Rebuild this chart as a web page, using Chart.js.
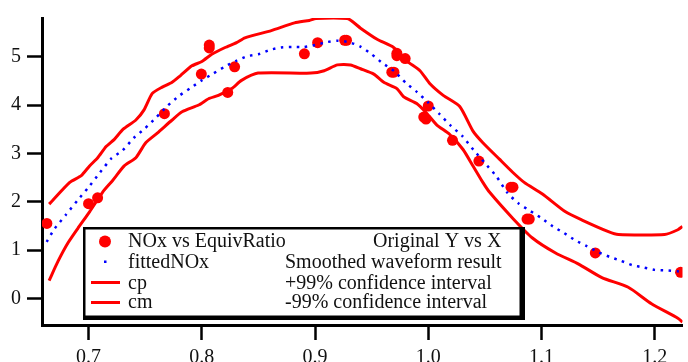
<!DOCTYPE html>
<html lang="en">
  <head>
    <meta charset="UTF-8" />
    <title>NOx vs EquivRatio</title>
    <script src="https://cdn.jsdelivr.net/npm/chart.js"></script>
    <style>
      body { margin: 0; background: #fff; }
      canvas { display: block; }
    </style>
  </head>
  <body>
    <canvas id="noxChart" width="688" height="362"></canvas>

    <script>
      // measured points (NOx vs EquivRatio)
      const obsX = [0.6632, 0.700, 0.708, 0.767, 0.7996, 0.8066, 0.8066, 0.8229, 0.829, 0.8906, 0.9023, 0.9262, 0.9278, 0.9678, 0.9697, 0.9723, 0.9723, 0.9796, 0.996, 0.998, 1.000, 1.0214, 1.0447, 1.0730, 1.0748, 1.0872, 1.0892, 1.1475, 1.2228];
      const obsY = [1.55, 1.96, 2.08, 3.82, 4.64, 5.18, 5.24, 4.26, 4.79, 5.06, 5.29, 5.34, 5.34, 4.68, 4.68, 5.02, 5.07, 4.96, 3.75, 3.71, 3.98, 3.27, 2.84, 2.30, 2.30, 1.64, 1.64, 0.94, 0.54];

      // smoothed fit
      const fitX = [0.663, 0.67, 0.68, 0.69, 0.70, 0.71, 0.72, 0.73, 0.74, 0.75, 0.76, 0.77, 0.78, 0.79, 0.80, 0.81, 0.82, 0.83, 0.84, 0.85, 0.86, 0.87, 0.88, 0.89, 0.90, 0.91, 0.92, 0.93, 0.94, 0.95, 0.96, 0.97, 0.98, 0.99, 1.00, 1.01, 1.02, 1.03, 1.04, 1.05, 1.06, 1.07, 1.08, 1.09, 1.10, 1.11, 1.12, 1.13, 1.14, 1.15, 1.16, 1.17, 1.18, 1.19, 1.20, 1.21, 1.22, 1.2245];
      const fitY = [1.17, 1.44, 1.73, 2.02, 2.30, 2.60, 2.89, 3.06, 3.32, 3.52, 3.75, 3.99, 4.19, 4.35, 4.51, 4.65, 4.79, 4.91, 5.01, 5.05, 5.14, 5.19, 5.20, 5.20, 5.24, 5.30, 5.33, 5.30, 5.21, 5.05, 4.86, 4.70, 4.46, 4.27, 4.05, 3.81, 3.57, 3.36, 3.07, 2.80, 2.53, 2.18, 1.96, 1.81, 1.66, 1.49, 1.35, 1.20, 1.08, 0.96, 0.86, 0.78, 0.69, 0.64, 0.59, 0.58, 0.56, 0.55];

      // +99% confidence band
      const cpX = [0.6652, 0.6834, 0.6936, 0.7009, 0.7081, 0.7155, 0.7228, 0.7306, 0.7418, 0.7490, 0.7563, 0.7651, 0.7738, 0.7812, 0.7913, 0.8001, 0.8088, 0.8206, 0.8307, 0.8381, 0.8614, 0.8819, 0.8950, 0.9008, 0.9286, 0.9402, 0.9548, 0.9694, 0.9811, 0.9927, 1.0015, 1.0132, 1.0278, 1.0395, 1.0482, 1.0628, 1.0745, 1.0847, 1.1008, 1.1212, 1.1358, 1.1591, 1.1679, 1.2087, 1.2204, 1.2245];
      const cpY = [1.95, 2.40, 2.54, 2.74, 2.91, 3.14, 3.29, 3.50, 3.69, 3.90, 4.24, 4.37, 4.47, 4.61, 4.81, 4.90, 5.05, 5.19, 5.29, 5.39, 5.54, 5.70, 5.75, 5.79, 5.79, 5.59, 5.36, 5.19, 4.91, 4.71, 4.44, 4.20, 3.97, 3.46, 3.22, 2.88, 2.61, 2.40, 2.16, 1.79, 1.62, 1.38, 1.32, 1.32, 1.42, 1.49];

      // -99% confidence band
      const cmX = [0.6652, 0.6731, 0.6819, 0.6906, 0.7009, 0.7125, 0.7213, 0.7315, 0.7418, 0.7505, 0.7607, 0.7738, 0.7826, 0.7972, 0.8060, 0.8147, 0.8264, 0.8351, 0.8497, 0.8964, 0.9081, 0.9198, 0.9314, 0.9402, 0.9519, 0.9607, 0.9723, 0.9782, 0.9898, 0.9986, 1.0074, 1.0190, 1.0307, 1.0395, 1.0482, 1.0540, 1.0745, 1.0920, 1.1124, 1.1328, 1.1533, 1.1766, 1.1971, 1.2204, 1.2245];
      const cmY = [0.37, 0.77, 1.15, 1.45, 1.79, 2.20, 2.44, 2.74, 2.91, 3.22, 3.42, 3.69, 3.86, 4.00, 4.13, 4.20, 4.34, 4.51, 4.66, 4.66, 4.71, 4.83, 4.83, 4.75, 4.64, 4.47, 4.34, 4.17, 4.03, 3.83, 3.59, 3.39, 3.08, 2.74, 2.40, 2.20, 1.66, 1.25, 0.94, 0.71, 0.43, 0.23, -0.11, -0.41, -0.49];

      const xTicks = [0.7, 0.8, 0.9, 1.0, 1.1, 1.2];
      const yTicks = [0, 1, 2, 3, 4, 5];

      const legendRows = [
        { name: "NOx vs EquivRatio", note: "Original Y vs X" },
        { name: "fittedNOx", note: "Smoothed waveform result" },
        { name: "cp", note: "+99% confidence interval" },
        { name: "cm", note: "-99% confidence interval" },
      ];

      const pts = (xs, ys) => xs.map((x, i) => ({ x: x, y: ys[i] }));
      const FONT = "Liberation Serif, Times New Roman, serif";

      // Igor style boxed legend with a drop shadow
      const boxLegend = {
        id: "boxLegend",
        afterDatasetsDraw(chart) {
          const c = chart.ctx;
          c.save();
          c.fillStyle = "#000";
          c.fillRect(83, 227, 442, 93);
          c.fillStyle = "#fff";
          c.fillRect(85.5, 229.5, 434, 86);

          // symbols
          c.fillStyle = "#ff0000";
          c.beginPath();
          c.arc(105, 241.5, 6, 0, Math.PI * 2);
          c.fill();
          c.fillStyle = "#0000ff";
          c.fillRect(104, 260.5, 2.5, 2.5);
          c.strokeStyle = "#ff0000";
          c.lineWidth = 3;
          [282.5, 302.5].forEach((y) => {
            c.beginPath();
            c.moveTo(91, y);
            c.lineTo(120, y);
            c.stroke();
          });

          // text
          c.fillStyle = "#111";
          c.font = "20px " + FONT;
          c.textBaseline = "alphabetic";
          const base = [247, 267.5, 289, 307.5];
          const noteX = [373, 285, 285, 285];
          legendRows.forEach((row, i) => {
            c.fillText(row.name, 128, base[i]);
            c.fillText(row.note, noteX[i], base[i]);
          });
          c.restore();
        },
      };

      const axisGrid = {
        drawOnChartArea: false,
        drawTicks: true,
        tickLength: 15,
        tickWidth: 2.5,
        tickColor: "#000",
      };

      new Chart(document.getElementById("noxChart"), {
        type: "scatter",
        data: {
          datasets: [
            {
              label: "fittedNOx",
              data: pts(fitX, fitY),
              showLine: true,
              borderColor: "#0000ff",
              borderWidth: 2.5,
              borderDash: [2.5, 5.5],
              borderCapStyle: "butt",
              pointRadius: 0,
              tension: 0.2,
            },
            {
              label: "NOx vs EquivRatio",
              data: pts(obsX, obsY),
              backgroundColor: "#ff0000",
              borderWidth: 0,
              pointRadius: 5.5,
            },
            {
              label: "cp",
              data: pts(cpX, cpY),
              showLine: true,
              borderColor: "#ff0000",
              borderWidth: 3,
              pointRadius: 0,
              tension: 0.2,
            },
            {
              label: "cm",
              data: pts(cmX, cmY),
              showLine: true,
              borderColor: "#ff0000",
              borderWidth: 3,
              pointRadius: 0,
              tension: 0.2,
            },
          ],
        },
        options: {
          responsive: false,
          animation: false,
          events: [],
          layout: { padding: { top: 13, left: 0, right: 0, bottom: 0 } },
          plugins: {
            legend: { display: false },
            tooltip: { enabled: false },
          },
          scales: {
            x: {
              type: "linear",
              min: 0.6589,
              max: 1.2245,
              afterBuildTicks: (s) => { s.ticks = xTicks.map((v) => ({ value: v })); },
              afterFit: (s) => { s.height = 37; },
              border: { width: 3, color: "#000" },
              grid: axisGrid,
              ticks: {
                color: "#111",
                font: { family: FONT, size: 20 },
                padding: 6,
                maxRotation: 0,
                callback: (v) => v.toFixed(1),
              },
            },
            y: {
              min: -0.55,
              max: 5.8,
              afterBuildTicks: (s) => { s.ticks = yTicks.map((v) => ({ value: v })); },
              afterFit: (s) => { s.width = 42; },
              border: { width: 3, color: "#000" },
              grid: axisGrid,
              ticks: {
                color: "#111",
                font: { family: FONT, size: 20 },
                padding: 6,
                callback: (v) => String(v),
              },
            },
          },
        },
        plugins: [boxLegend],
      });
    </script>
  </body>
</html>
